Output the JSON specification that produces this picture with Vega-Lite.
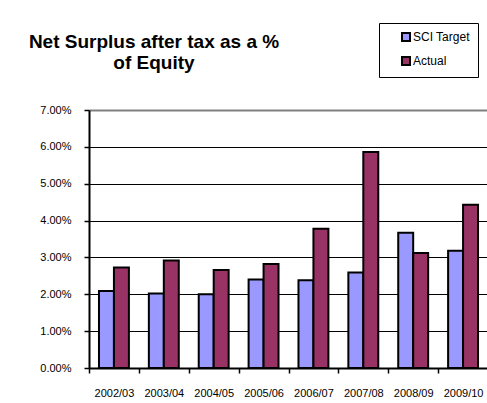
{
  "$schema": "https://vega.github.io/schema/vega-lite/v6.json",
  "width": 399,
  "height": 258,
  "autosize": {"type": "none"},
  "padding": {"left": 89, "top": 110, "right": 0, "bottom": 35},
  "background": "white",
  "title": {
    "text": ["Net Surplus after tax as a %", "of Equity"],
    "anchor": "start",
    "align": "center",
    "frame": "group",
    "dx": 65,
    "dy": 83,
    "offset": 33,
    "font": "Liberation Sans",
    "fontSize": 19,
    "fontWeight": "bold",
    "lineHeight": 21,
    "color": "black"
  },
  "data": {
    "values": [
      {"year": "2002/03", "series": "SCI Target", "value": 0.0209},
      {"year": "2002/03", "series": "Actual", "value": 0.0273},
      {"year": "2003/04", "series": "SCI Target", "value": 0.0202},
      {"year": "2003/04", "series": "Actual", "value": 0.0292},
      {"year": "2004/05", "series": "SCI Target", "value": 0.0200},
      {"year": "2004/05", "series": "Actual", "value": 0.0266},
      {"year": "2005/06", "series": "SCI Target", "value": 0.0240},
      {"year": "2005/06", "series": "Actual", "value": 0.0282},
      {"year": "2006/07", "series": "SCI Target", "value": 0.0238},
      {"year": "2006/07", "series": "Actual", "value": 0.0378},
      {"year": "2007/08", "series": "SCI Target", "value": 0.0259},
      {"year": "2007/08", "series": "Actual", "value": 0.0586},
      {"year": "2008/09", "series": "SCI Target", "value": 0.0367},
      {"year": "2008/09", "series": "Actual", "value": 0.0312},
      {"year": "2009/10", "series": "SCI Target", "value": 0.0318},
      {"year": "2009/10", "series": "Actual", "value": 0.0443}
    ]
  },
  "mark": {"type": "bar", "stroke": "black", "strokeWidth": 2},
  "encoding": {
    "x": {
      "field": "year",
      "type": "nominal",
      "scale": {"paddingInner": 0, "paddingOuter": 0},
      "axis": {
        "title": null,
        "labelAngle": 0,
        "labelFont": "Liberation Sans",
        "labelFontSize": 11,
        "labelColor": "black",
        "labelPadding": 14,
        "domainColor": "black",
        "domainWidth": 2,
        "tickColor": "black",
        "tickWidth": 1.5,
        "tickSize": 5,
        "tickBand": "extent"
      }
    },
    "xOffset": {
      "field": "series",
      "sort": ["SCI Target", "Actual"],
      "scale": {"paddingInner": 0, "paddingOuter": 0.667}
    },
    "y": {
      "field": "value",
      "type": "quantitative",
      "scale": {"domain": [0, 0.07], "nice": false},
      "axis": {
        "title": null,
        "format": ".2%",
        "values": [0, 0.01, 0.02, 0.03, 0.04, 0.05, 0.06, 0.07],
        "labelFont": "Liberation Sans",
        "labelFontSize": 11,
        "labelColor": "black",
        "labelPadding": 13,
        "domainColor": "black",
        "domainWidth": 2,
        "tickColor": "black",
        "tickWidth": 1.5,
        "tickSize": 5,
        "grid": true,
        "gridColor": {"condition": {"test": "datum.value >= 0.069", "value": "#808080"}, "value": "black"},
        "gridWidth": {"condition": {"test": "datum.value >= 0.069", "value": 2}, "value": 1},
        "gridOpacity": 1
      }
    },
    "color": {
      "field": "series",
      "type": "nominal",
      "sort": ["SCI Target", "Actual"],
      "scale": {"domain": ["SCI Target", "Actual"], "range": ["#9999FF", "#993366"]},
      "legend": {
        "title": null,
        "orient": "none",
        "legendX": 290,
        "legendY": -87,
        "direction": "vertical",
        "strokeColor": "black",
        "fillColor": "white",
        "padding": 8,
        "cornerRadius": 0,
        "symbolType": "square",
        "symbolSize": 64,
        "symbolStrokeColor": "black",
        "symbolStrokeWidth": 2,
        "symbolOffset": 13,
        "labelOffset": 1,
        "labelFont": "Liberation Sans",
        "labelFontSize": 12,
        "labelColor": "black",
        "rowPadding": 8
      }
    }
  },
  "config": {"view": {"stroke": null}}
}
